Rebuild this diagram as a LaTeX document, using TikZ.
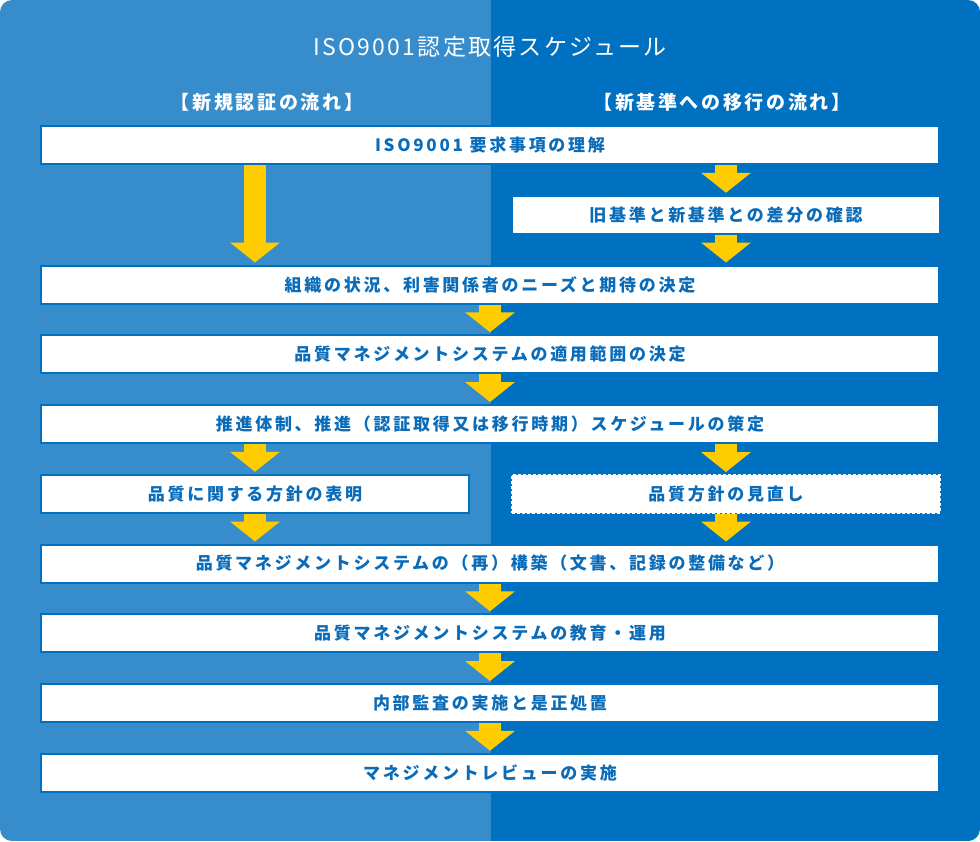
\documentclass[tikz,border=0pt]{standalone}
\usepackage{fontspec}
\usetikzlibrary{arrows.meta}
\setmainfont{Noto Sans CJK JP}
\newfontfamily\titlefont{Noto Sans CJK JP}[LetterSpace=10]
\newfontfamily\boxfont{Noto Sans CJK JP}[LetterSpace=16]
\newfontfamily\headfont{Noto Sans CJK JP}[LetterSpace=14]
\definecolor{leftblue}{HTML}{378CCB}
\definecolor{rightblue}{HTML}{0070C0}
\definecolor{boxtext}{HTML}{0A6CB9}
\definecolor{arrowyellow}{HTML}{FFCC00}

\begin{document}
\begin{tikzpicture}[x=1pt,y=-1pt,
  stepbox/.style={draw=rightblue,line width=2pt,fill=white,minimum height=38pt,inner sep=0pt,
    text=boxtext,font=\boxfont\bfseries\fontsize{17}{19}\selectfont},
  widebox/.style={stepbox,minimum width=898pt},
  halfbox/.style={stepbox,minimum width=428pt},
  dashbox/.style={halfbox,draw=white,line width=1.5pt,dash pattern=on 3pt off 2pt},
  colhead/.style={text=white,font=\headfont\bfseries\fontsize{19}{21}\selectfont},
  flow/.style={draw=arrowyellow,line width=22pt,-{Triangle[width=49pt,length=20pt]},shorten >=2pt}]
\useasboundingbox (0,0) rectangle (980,841);
% background
\begin{scope}
\clip[rounded corners=12pt] (0,0) rectangle (980,841);
\fill[leftblue] (0,0) rectangle (491,841);
\fill[rightblue] (491,0) rectangle (980,841);
\end{scope}

\node[text=white,font=\titlefont\fontsize{23}{25}\selectfont] (title) at (490,47) {ISO9001認定取得スケジュール};
\node[colhead] (hnew) at (267,102) {【新規認証の流れ】};
\node[colhead] (hmove) at (722,102) {【新基準への移行の流れ】};

\node[widebox] (b1) at (490,145) {ISO9001 要求事項の理解};
\node[halfbox] (b2) at (726,214.75) {旧基準と新基準との差分の確認};
\node[widebox] (b3) at (490,284.5) {組織の状況、利害関係者のニーズと期待の決定};
\node[widebox] (b4) at (490,354.25) {品質マネジメントシステムの適用範囲の決定};
\node[widebox] (b5) at (490,424) {推進体制、推進（認証取得又は移行時期）スケジュールの策定};
\node[stepbox,minimum width=428pt] (b6l) at (255,493.75) {品質に関する方針の表明};
\node[dashbox] (b6r) at (726,493.75) {品質方針の見直し};
\node[widebox] (b7) at (490,563.5) {品質マネジメントシステムの（再）構築（文書、記録の整備など）};
\node[widebox] (b8) at (490,633.25) {品質マネジメントシステムの教育・運用};
\node[widebox] (b9) at (490,703) {内部監査の実施と是正処置};
\node[widebox] (b10) at (490,772.75) {マネジメントレビューの実施};

\path[flow] (b1.south -| b6l.south) -- (b3.north -| b6l.north);
\path[flow] (b1.south -| b2.south) -- (b2.north);
\path[flow] (b2.south) -- (b3.north -| b2.north);
\path[flow] (b3.south) -- (b4.north);
\path[flow] (b4.south) -- (b5.north);
\path[flow] (b5.south -| b6l.south) -- (b6l.north);
\path[flow] (b5.south -| b6r.south) -- (b6r.north);
\path[flow] (b6l.south) -- (b7.north -| b6l.north);
\path[flow] (b6r.south) -- (b7.north -| b6r.north);
\path[flow] (b7.south) -- (b8.north);
\path[flow] (b8.south) -- (b9.north);
\path[flow] (b9.south) -- (b10.north);
\end{tikzpicture}
\end{document}
